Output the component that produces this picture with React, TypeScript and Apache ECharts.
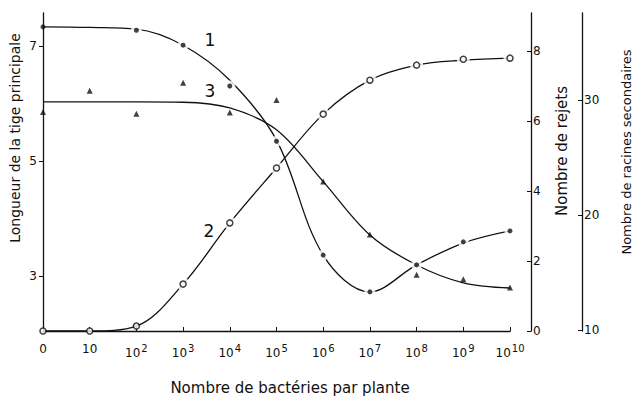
import React, { useEffect, useRef } from "react";
import * as echarts from "echarts";

// x positions: 0, 10, 10^2 ... 10^10 (index = exponent, 0 => "0")
const xIndex = [0, 1, 2, 3, 4, 5, 6, 7, 8, 9, 10];
const xExponents = [null, 1, 2, 3, 4, 5, 6, 7, 8, 9, 10];

// Curve 1 : Longueur de la tige principale (left axis)
const tigePoints = [7.33, null, 7.27, 7.01, 6.3, 5.34, 3.36, 2.72, 3.19, 3.59, 3.78];
const tigeCurve = [7.33, 7.32, 7.29, 7.01, 6.4, 5.36, 3.36, 2.72, 3.19, 3.57, 3.78];

// Curve 2 : Nombre de rejets (right axis 1)
const rejetsPoints = [0, 0, 0.14, 1.34, 3.09, 4.66, 6.2, 7.17, 7.6, 7.77, 7.8];
const rejetsCurve = [0, 0, 0.14, 1.34, 3.09, 4.66, 6.2, 7.17, 7.6, 7.74, 7.8];

// Curve 3 : Nombre de racines secondaires (right axis 2)
const racinesPoints = [28.96, 30.8, 28.8, 31.5, 28.9, 30.0, 22.9, 18.3, 14.8, 14.4, 13.7];
const racinesCurve = [29.83, 29.83, 29.83, 29.8, 29.3, 27.4, 22.9, 18.26, 15.65, 14.1, 13.65];

const tigeTicks = [3, 5, 7];
const rejetsTicks = [0, 2, 4, 6, 8];
const racinesTicks = [10, 20, 30];

const FONT = "DejaVu Sans";
const INK = "#111";

function pairs(vals: (number | null)[], from = 0) {
  const out: [number, number][] = [];
  vals.forEach((v, i) => {
    if (v !== null && i >= from) out.push([xIndex[i], v]);
  });
  return out;
}

export default function App() {
  const ref = useRef<HTMLDivElement>(null);
  useEffect(() => {
    if (!ref.current) return;
    const chart = echarts.init(ref.current, null, { renderer: "svg" });
    const lineStyle = { color: INK, width: 1.3 };
    const yCommon = {
      type: "value" as const,
      splitLine: { show: false },
      axisLine: { show: true, onZero: false, lineStyle: { color: INK, width: 1.3 } },
      axisLabel: { color: INK, fontFamily: FONT, fontSize: 12, margin: 4 },
    };
    chart.setOption({
      animation: false,
      backgroundColor: "#fff",
      grid: { left: 43, right: 125, top: 13, bottom: 73 },
      xAxis: {
        type: "value",
        min: 0,
        max: 10,
        interval: 1,
        splitLine: { show: false },
        axisLine: { lineStyle: { color: INK, width: 1.3 } },
        axisTick: { inside: true, length: 4, lineStyle: { color: INK } },
        axisLabel: {
          color: INK,
          fontFamily: FONT,
          fontSize: 12,
          margin: 12,
          formatter: (v: number) => {
            const e = xExponents[Math.round(v)];
            if (e === null || e === undefined) return "0";
            if (e === 1) return "10";
            return "10{sup|" + e + "}";
          },
          rich: {
            sup: { fontSize: 10, fontFamily: FONT, color: INK, padding: [0, 0, 9, 1] },
          },
        },
      },
      yAxis: [
        {
          ...yCommon,
          position: "left",
          min: 2.04,
          max: 7.57,
          axisTick: { show: true, length: 4, customValues: tigeTicks, lineStyle: { color: INK } },
          axisLabel: { ...yCommon.axisLabel, customValues: tigeTicks, margin: 6 },
        },
        {
          ...yCommon,
          position: "right",
          offset: 21,
          min: 0,
          max: 9.09,
          axisTick: { show: true, inside: true, length: 4, customValues: rejetsTicks, lineStyle: { color: INK } },
          axisLabel: { ...yCommon.axisLabel, customValues: rejetsTicks, margin: 2 },
        },
        {
          ...yCommon,
          position: "right",
          offset: 72,
          min: 9.91,
          max: 37.56,
          axisTick: { show: true, inside: true, length: 4, customValues: racinesTicks, lineStyle: { color: INK } },
          axisLabel: { ...yCommon.axisLabel, customValues: racinesTicks, margin: 2 },
        },
      ],
      series: [
        { type: "line", yAxisIndex: 0, data: pairs(tigeCurve), smooth: 0.35, showSymbol: false, lineStyle, z: 2 },
        { type: "line", yAxisIndex: 1, data: pairs(rejetsCurve), smooth: 0.35, showSymbol: false, lineStyle, z: 2 },
        { type: "line", yAxisIndex: 2, data: pairs(racinesCurve), smooth: 0.35, showSymbol: false, lineStyle, z: 2 },
        // white halos around markers sitting on curves
        { type: "scatter", yAxisIndex: 0, data: pairs(tigePoints, 2), symbol: "circle", symbolSize: 11, itemStyle: { color: "#fff" }, z: 3, silent: true },
        { type: "scatter", yAxisIndex: 1, data: pairs(rejetsPoints, 3), symbol: "circle", symbolSize: 13, itemStyle: { color: "#fff" }, z: 3, silent: true },
        // markers
        { type: "scatter", yAxisIndex: 0, data: pairs(tigePoints), symbol: "circle", symbolSize: 5, itemStyle: { color: INK }, z: 4 },
        { type: "scatter", yAxisIndex: 1, data: pairs(rejetsPoints), symbol: "circle", symbolSize: 6, itemStyle: { color: "#fff", borderColor: INK, borderWidth: 1.5 }, z: 4 },
        { type: "scatter", yAxisIndex: 2, data: pairs(racinesPoints), symbol: "triangle", symbolSize: 6, itemStyle: { color: INK }, z: 4 },
      ],
      graphic: [
        { type: "text", x: 15, y: 138, rotation: Math.PI / 2, style: { text: "Longueur de la tige principale", fontFamily: FONT, fontSize: 14, fill: INK, align: "center", verticalAlign: "middle" } },
        { type: "text", x: 562, y: 151, rotation: Math.PI / 2, style: { text: "Nombre de rejets", fontFamily: FONT, fontSize: 15, fill: INK, align: "center", verticalAlign: "middle" } },
        { type: "text", x: 626, y: 152, rotation: Math.PI / 2, style: { text: "Nombre de racines secondaires", fontFamily: FONT, fontSize: 13, fill: INK, align: "center", verticalAlign: "middle" } },
        { type: "text", x: 290, y: 388, style: { text: "Nombre de bactéries par plante", fontFamily: FONT, fontSize: 15, fill: INK, align: "center", verticalAlign: "middle" } },
        { type: "text", x: 210, y: 40, style: { text: "1", fontFamily: FONT, fontSize: 17, fill: INK, align: "center", verticalAlign: "middle" } },
        { type: "text", x: 210, y: 91, style: { text: "3", fontFamily: FONT, fontSize: 17, fill: INK, align: "center", verticalAlign: "middle" } },
        { type: "text", x: 209, y: 231, style: { text: "2", fontFamily: FONT, fontSize: 17, fill: INK, align: "center", verticalAlign: "middle" } },
      ],
    });
    return () => chart.dispose();
  }, []);
  return <div ref={ref} style={{ position: "fixed", left: 0, top: 0, width: 635, height: 404 }} />;
}
